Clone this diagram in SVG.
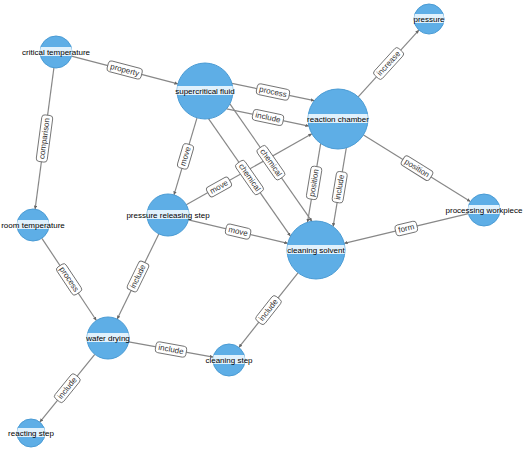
<svg xmlns="http://www.w3.org/2000/svg" width="526" height="451" viewBox="0 0 526 451">
<style>
.edge{stroke:#888;stroke-width:1.2;fill:none;marker-end:url(#arr)}
.lbl rect{fill:#fff;stroke:#6f6f6f;stroke-width:0.9}
.lbl text{font-family:"Liberation Sans",Arial,sans-serif;font-size:8px;fill:#333;text-anchor:middle;dominant-baseline:central}
.node circle{fill:#5eaee6;stroke:#4a9bd4;stroke-width:1}
.band{fill:#e0f1fc}
.node text{font-family:"Liberation Sans",Arial,sans-serif;font-size:8px;fill:#000;text-anchor:middle;dominant-baseline:central}
</style>
<defs>
<marker id="arr" viewBox="0 0 10 10" refX="10" refY="5" markerWidth="3.5" markerHeight="3.5" markerUnits="userSpaceOnUse" orient="auto">
<path d="M0,0 L10,5 L0,10 z" fill="#666"/>
</marker>
<clipPath id="cCT"><circle cx="56" cy="52" r="16"/></clipPath>
<clipPath id="cSF"><circle cx="205" cy="91" r="28"/></clipPath>
<clipPath id="cRC"><circle cx="338" cy="119" r="30"/></clipPath>
<clipPath id="cP"><circle cx="429" cy="19" r="15"/></clipPath>
<clipPath id="cRT"><circle cx="33" cy="225" r="16"/></clipPath>
<clipPath id="cPRS"><circle cx="168" cy="215" r="21"/></clipPath>
<clipPath id="cCS"><circle cx="316" cy="250" r="29"/></clipPath>
<clipPath id="cPW"><circle cx="484" cy="210" r="16"/></clipPath>
<clipPath id="cWD"><circle cx="108" cy="338" r="21"/></clipPath>
<clipPath id="cCLS"><circle cx="229" cy="360" r="16"/></clipPath>
<clipPath id="cRS"><circle cx="31" cy="433" r="14"/></clipPath>
</defs>
<rect width="526" height="451" fill="#fff"/>
<g id="connectors">
<line class="edge" x1="71.5" y1="56.1" x2="177.9" y2="83.9"/>
<line class="edge" x1="53.9" y1="67.9" x2="35.1" y2="209.1"/>
<line class="edge" x1="232" y1="83.4" x2="314.3" y2="100.7"/>
<line class="edge" x1="226.6" y1="108.8" x2="308.9" y2="126.1"/>
<line class="edge" x1="358.2" y1="96.8" x2="418.9" y2="30.1"/>
<line class="edge" x1="363.5" y1="134.9" x2="470.4" y2="201.5"/>
<line class="edge" x1="197" y1="117.8" x2="174" y2="194.9"/>
<line class="edge" x1="229.9" y1="103.9" x2="311.9" y2="221.4"/>
<line class="edge" x1="208.5" y1="118.7" x2="290.5" y2="236.2"/>
<line class="edge" x1="186.3" y1="204.7" x2="311.9" y2="133.8"/>
<line class="edge" x1="188.4" y1="219.8" x2="287.8" y2="243.3"/>
<line class="edge" x1="346.3" y1="147.8" x2="333.1" y2="226.6"/>
<line class="edge" x1="320.7" y1="143.4" x2="307.5" y2="222.3"/>
<line class="edge" x1="468.4" y1="213.7" x2="344.2" y2="243.3"/>
<line class="edge" x1="41.9" y1="238.3" x2="96.4" y2="320.5"/>
<line class="edge" x1="158.8" y1="233.9" x2="117.2" y2="319.1"/>
<line class="edge" x1="128.7" y1="341.8" x2="213.3" y2="357.1"/>
<line class="edge" x1="298" y1="272.8" x2="238.9" y2="347.4"/>
<line class="edge" x1="94.8" y1="354.3" x2="39.8" y2="422.1"/>
<g class="lbl" transform="translate(124.7,70) rotate(14.7)"><rect x="-17.5" y="-5.5" width="35" height="11" rx="3"/><text>property</text></g>
<g class="lbl" transform="translate(44.5,138.5) rotate(-82.4)"><rect x="-23.5" y="-5.5" width="47" height="11" rx="3"/><text>comparison</text></g>
<g class="lbl" transform="translate(273,92) rotate(11.9)"><rect x="-16.5" y="-5.5" width="33" height="11" rx="3"/><text>process</text></g>
<g class="lbl" transform="translate(268,117.5) rotate(11.9)"><rect x="-15.5" y="-5.5" width="31" height="11" rx="3"/><text>include</text></g>
<g class="lbl" transform="translate(388.6,63.5) rotate(-47.7)"><rect x="-18" y="-5.5" width="36" height="11" rx="3"/><text>increase</text></g>
<g class="lbl" transform="translate(417,168.2) rotate(31.9)"><rect x="-16.5" y="-5.5" width="33" height="11" rx="3"/><text>position</text></g>
<g class="lbl" transform="translate(185.5,156.4) rotate(-73.4)"><rect x="-12.5" y="-5.5" width="25" height="11" rx="3"/><text>move</text></g>
<g class="lbl" transform="translate(270.9,162.7) rotate(55.1)"><rect x="-18.5" y="-5.5" width="37" height="11" rx="3"/><text>chemical</text></g>
<g class="lbl" transform="translate(249.5,177.5) rotate(55.1)"><rect x="-18.5" y="-5.5" width="37" height="11" rx="3"/><text>chemical</text></g>
<g class="lbl" transform="translate(219,187) rotate(-29.5)"><rect x="-12.5" y="-5.5" width="25" height="11" rx="3"/><text>move</text></g>
<g class="lbl" transform="translate(238.1,231.6) rotate(13.3)"><rect x="-12.5" y="-5.5" width="25" height="11" rx="3"/><text>move</text></g>
<g class="lbl" transform="translate(339.7,187.2) rotate(-80.5)"><rect x="-15.5" y="-5.5" width="31" height="11" rx="3"/><text>include</text></g>
<g class="lbl" transform="translate(314.1,182.9) rotate(-80.5)"><rect x="-16.5" y="-5.5" width="33" height="11" rx="3"/><text>position</text></g>
<g class="lbl" transform="translate(406.3,228.5) rotate(-13.4)"><rect x="-11" y="-5.5" width="22" height="11" rx="3"/><text>form</text></g>
<g class="lbl" transform="translate(69.1,279.4) rotate(56.4)"><rect x="-16.5" y="-5.5" width="33" height="11" rx="3"/><text>process</text></g>
<g class="lbl" transform="translate(138,276.5) rotate(-64)"><rect x="-15.5" y="-5.5" width="31" height="11" rx="3"/><text>include</text></g>
<g class="lbl" transform="translate(171,349.5) rotate(10.3)"><rect x="-15.5" y="-5.5" width="31" height="11" rx="3"/><text>include</text></g>
<g class="lbl" transform="translate(268.5,310.1) rotate(-51.7)"><rect x="-15.5" y="-5.5" width="31" height="11" rx="3"/><text>include</text></g>
<g class="lbl" transform="translate(67.3,388.2) rotate(-51)"><rect x="-15.5" y="-5.5" width="31" height="11" rx="3"/><text>include</text></g>
</g>
<g id="critical-temperature" class="node"><circle cx="56" cy="52" r="16"/><rect class="band" x="40" y="47" width="32" height="9" clip-path="url(#cCT)"/><text x="56" y="52">critical temperature</text></g>
<g id="supercritical-fluid" class="node"><circle cx="205" cy="91" r="28"/><rect class="band" x="177" y="86" width="56" height="9" clip-path="url(#cSF)"/><text x="205" y="91">supercritical fluid</text></g>
<g id="reaction-chamber" class="node"><circle cx="338" cy="119" r="30"/><rect class="band" x="308" y="114" width="60" height="9" clip-path="url(#cRC)"/><text x="338" y="119">reaction chamber</text></g>
<g id="pressure" class="node"><circle cx="429" cy="19" r="15"/><rect class="band" x="414" y="14" width="30" height="9" clip-path="url(#cP)"/><text x="429" y="19">pressure</text></g>
<g id="room-temperature" class="node"><circle cx="33" cy="225" r="16"/><rect class="band" x="17" y="220" width="32" height="9" clip-path="url(#cRT)"/><text x="33" y="225">room temperature</text></g>
<g id="pressure-releasing-step" class="node"><circle cx="168" cy="215" r="21"/><rect class="band" x="147" y="210" width="42" height="9" clip-path="url(#cPRS)"/><text x="168" y="215">pressure releasing step</text></g>
<g id="cleaning-solvent" class="node"><circle cx="316" cy="250" r="29"/><rect class="band" x="287" y="245" width="58" height="9" clip-path="url(#cCS)"/><text x="316" y="250">cleaning solvent</text></g>
<g id="processing-workpiece" class="node"><circle cx="484" cy="210" r="16"/><rect class="band" x="468" y="205" width="32" height="9" clip-path="url(#cPW)"/><text x="484" y="210">processing workpiece</text></g>
<g id="wafer-drying" class="node"><circle cx="108" cy="338" r="21"/><rect class="band" x="87" y="333" width="42" height="9" clip-path="url(#cWD)"/><text x="108" y="338">wafer drying</text></g>
<g id="cleaning-step" class="node"><circle cx="229" cy="360" r="16"/><rect class="band" x="213" y="355" width="32" height="9" clip-path="url(#cCLS)"/><text x="229" y="360">cleaning step</text></g>
<g id="reacting-step" class="node"><circle cx="31" cy="433" r="14"/><rect class="band" x="17" y="428" width="28" height="9" clip-path="url(#cRS)"/><text x="31" y="433">reacting step</text></g>
</svg>
